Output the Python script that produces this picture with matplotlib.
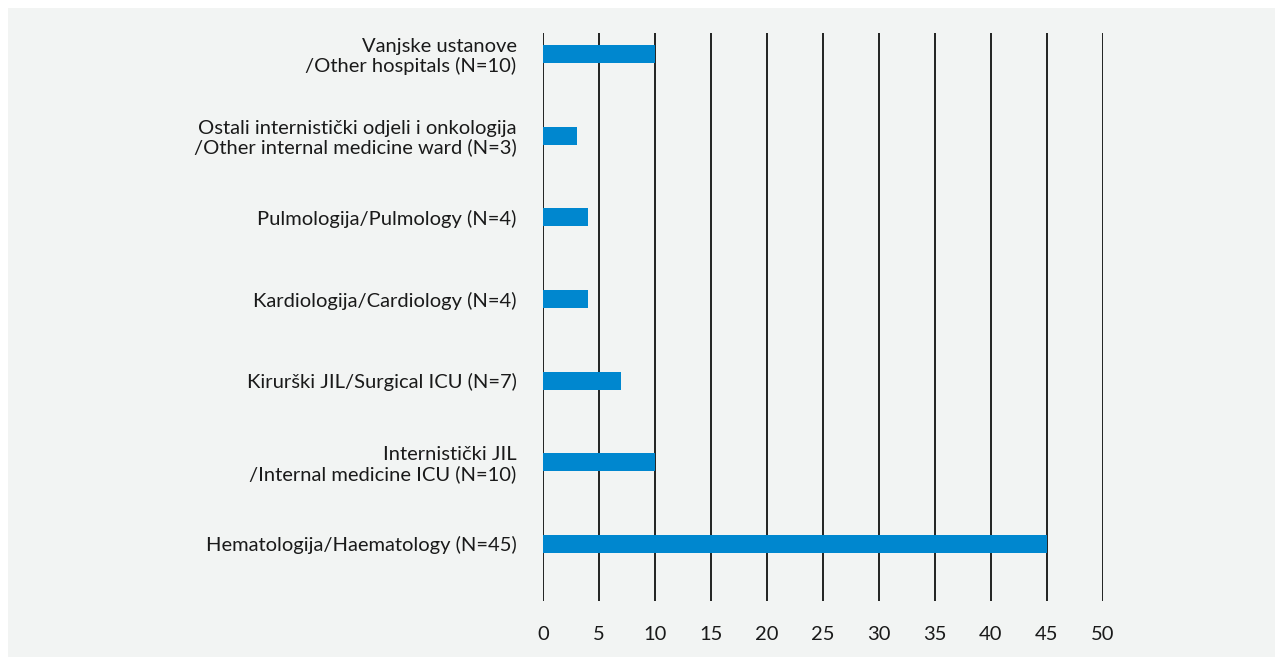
import matplotlib.pyplot as plt
from matplotlib.patches import Rectangle

# Data (bottom to top as drawn)
categories = [
    'Hematologija/Haematology (N=45)',
    'Internistički JIL\n/Internal medicine ICU (N=10)',
    'Kirurški JIL/Surgical ICU (N=7)',
    'Kardiologija/Cardiology (N=4)',
    'Pulmologija/Pulmology (N=4)',
    'Ostali internistički odjeli i onkologija\n/Other internal medicine ward (N=3)',
    'Vanjske ustanove\n/Other hospitals (N=10)',
]
values = [45, 10, 7, 4, 4, 3, 10]
xticks = [0, 5, 10, 15, 20, 25, 30, 35, 40, 45, 50]

BG = '#f2f4f3'
BAR = '#0087cf'

plt.rcParams['font.family'] = ['Lato', 'DejaVu Sans']

fig = plt.figure(figsize=(12.75, 6.57), dpi=100, facecolor='white')
# grey panel with a thin white strip on the top and left
fig.add_artist(Rectangle((8 / 1275, 0), 1, 1 - 8 / 657, transform=fig.transFigure,
                         facecolor=BG, edgecolor='none', zorder=-10))

ax = fig.add_axes([543 / 1275, 56 / 657, 560 / 1275, 568 / 657])
ax.patch.set_alpha(0)

ypos = list(range(len(categories)))
ax.barh(ypos, values, height=0.22, color=BAR, zorder=2)

ax.set_xlim(0, 50)
ax.set_ylim(-0.70, 6.26)
ax.set_xticks(xticks)
ax.set_xticklabels([str(t) for t in xticks], fontsize=14.5, color='#1a1a1a')
ax.set_yticks(ypos)
ax.set_yticklabels(categories, fontsize=14.5, color='#1a1a1a', linespacing=1.1)
ax.tick_params(axis='both', length=0)
ax.tick_params(axis='y', pad=19)
ax.tick_params(axis='x', pad=18)

for x in xticks:
    ax.axvline(x, color='#111111', linewidth=1.3, zorder=1)

for s in ax.spines.values():
    s.set_visible(False)

plt.savefig('out.png', dpi=100, facecolor='white')
